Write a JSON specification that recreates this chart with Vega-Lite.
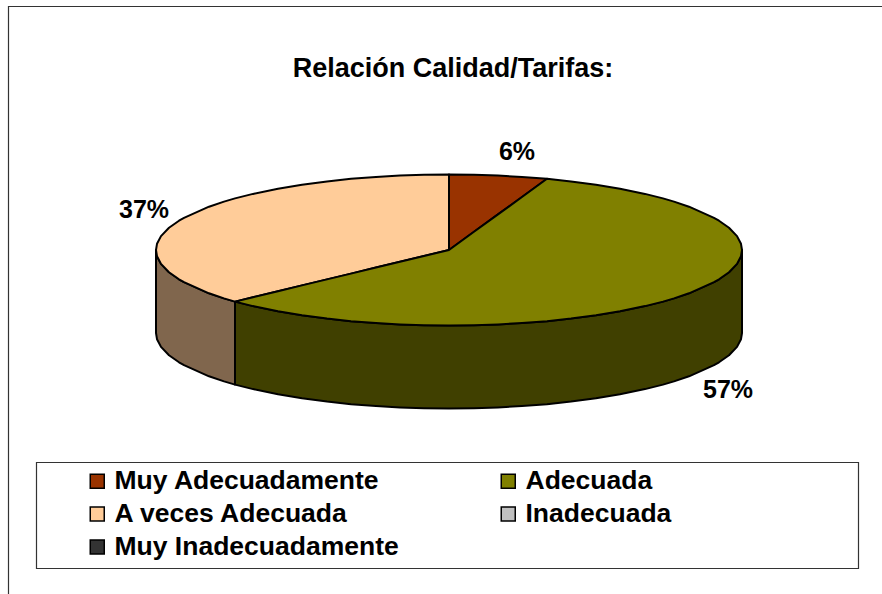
{
"$schema":"https://vega.github.io/schema/vega-lite/v6.json",
"width":882,"height":594,"padding":0,"autosize":{"type":"none"},"background":"white",
"title":{"text":"Relación Calidad/Tarifas:","font":"Liberation Sans","fontSize":27,"fontWeight":"bold","color":"#000000","anchor":"middle","dx":12,"dy":104,"offset":0,"baseline":"alphabetic"},
"config":{"view":{"stroke":null}},
"datasets":{
"boxes":[{"box":"marco","x":8.5,"x2":900,"y":6.5,"y2":620},{"box":"leyenda","x":36.5,"x2":858.5,"y":462.5,"y2":568.5}],
"labels":[{"slice":"Muy Adecuadamente","pct":"6%","x":517,"y":152},{"slice":"Adecuada","pct":"57%","x":728,"y":390},{"slice":"A veces Adecuada","pct":"37%","x":144,"y":210}],
"pie":[
{"part":"A veces lateral","x":156,"y":250,"y2":333},{"part":"A veces lateral","x":157,"y":256.2,"y2":339.2},{"part":"A veces lateral","x":161,"y":263.9,"y2":346.9},{"part":"A veces lateral","x":169,"y":272.2,"y2":355.2},{"part":"A veces lateral","x":179,"y":279.3,"y2":362.3},{"part":"A veces lateral","x":184,"y":282.2,"y2":365.2},{"part":"A veces lateral","x":209,"y":293.3,"y2":376.3},{"part":"A veces lateral","x":224,"y":298.4,"y2":381.4},{"part":"A veces lateral","x":235,"y":301.6,"y2":384.6},
{"part":"Adecuada lateral","x":235,"y":301.6,"y2":384.6},{"part":"Adecuada lateral","x":253,"y":306.1,"y2":389.1},{"part":"Adecuada lateral","x":278,"y":311.3,"y2":394.3},{"part":"Adecuada lateral","x":302,"y":315.3,"y2":398.3},{"part":"Adecuada lateral","x":327,"y":318.6,"y2":401.6},{"part":"Adecuada lateral","x":351,"y":321.2,"y2":404.2},{"part":"Adecuada lateral","x":376,"y":323.1,"y2":406.1},{"part":"Adecuada lateral","x":400,"y":324.4,"y2":407.4},{"part":"Adecuada lateral","x":424,"y":325.2,"y2":408.2},{"part":"Adecuada lateral","x":449,"y":325.5,"y2":408.5},{"part":"Adecuada lateral","x":474,"y":325.2,"y2":408.2},{"part":"Adecuada lateral","x":498,"y":324.4,"y2":407.4},{"part":"Adecuada lateral","x":522,"y":323.1,"y2":406.1},{"part":"Adecuada lateral","x":547,"y":321.2,"y2":404.2},{"part":"Adecuada lateral","x":571,"y":318.6,"y2":401.6},{"part":"Adecuada lateral","x":596,"y":315.3,"y2":398.3},{"part":"Adecuada lateral","x":620,"y":311.3,"y2":394.3},{"part":"Adecuada lateral","x":645,"y":306.1,"y2":389.1},{"part":"Adecuada lateral","x":663,"y":301.6,"y2":384.6},{"part":"Adecuada lateral","x":674,"y":298.4,"y2":381.4},{"part":"Adecuada lateral","x":689,"y":293.3,"y2":376.3},{"part":"Adecuada lateral","x":714,"y":282.2,"y2":365.2},{"part":"Adecuada lateral","x":719,"y":279.3,"y2":362.3},{"part":"Adecuada lateral","x":729,"y":272.2,"y2":355.2},{"part":"Adecuada lateral","x":737,"y":263.9,"y2":346.9},{"part":"Adecuada lateral","x":741,"y":256.2,"y2":339.2},{"part":"Adecuada lateral","x":742,"y":250,"y2":333},
{"part":"A veces Adecuada","x":156,"y":250,"y2":250},{"part":"A veces Adecuada","x":157,"y":243.8,"y2":256.2},{"part":"A veces Adecuada","x":161,"y":236.1,"y2":263.9},{"part":"A veces Adecuada","x":169,"y":227.8,"y2":272.2},{"part":"A veces Adecuada","x":179,"y":220.7,"y2":279.3},{"part":"A veces Adecuada","x":184,"y":217.8,"y2":282.2},{"part":"A veces Adecuada","x":209,"y":206.7,"y2":293.3},{"part":"A veces Adecuada","x":224,"y":201.6,"y2":298.4},{"part":"A veces Adecuada","x":235,"y":198.4,"y2":301.6},{"part":"A veces Adecuada","x":253,"y":193.9,"y2":297.3},{"part":"A veces Adecuada","x":278,"y":188.7,"y2":291.2},{"part":"A veces Adecuada","x":302,"y":184.7,"y2":285.4},{"part":"A veces Adecuada","x":327,"y":181.4,"y2":279.4},{"part":"A veces Adecuada","x":351,"y":178.8,"y2":273.6},{"part":"A veces Adecuada","x":376,"y":176.9,"y2":267.5},{"part":"A veces Adecuada","x":400,"y":175.6,"y2":261.8},{"part":"A veces Adecuada","x":424,"y":174.8,"y2":256},{"part":"A veces Adecuada","x":449,"y":174.5,"y2":250},
{"part":"Muy Adecuadamente","x":449,"y":174.5,"y2":250},{"part":"Muy Adecuadamente","x":474,"y":174.8,"y2":231.8},{"part":"Muy Adecuadamente","x":498,"y":175.6,"y2":214.4},{"part":"Muy Adecuadamente","x":522,"y":176.9,"y2":197},{"part":"Muy Adecuadamente","x":547,"y":178.8,"y2":178.8},
{"part":"Adecuada","x":235,"y":301.6,"y2":301.6},{"part":"Adecuada","x":253,"y":297.3,"y2":306.1},{"part":"Adecuada","x":278,"y":291.2,"y2":311.3},{"part":"Adecuada","x":302,"y":285.4,"y2":315.3},{"part":"Adecuada","x":327,"y":279.4,"y2":318.6},{"part":"Adecuada","x":351,"y":273.6,"y2":321.2},{"part":"Adecuada","x":376,"y":267.5,"y2":323.1},{"part":"Adecuada","x":400,"y":261.8,"y2":324.4},{"part":"Adecuada","x":424,"y":256,"y2":325.2},{"part":"Adecuada","x":449,"y":250,"y2":325.5},{"part":"Adecuada","x":474,"y":231.8,"y2":325.2},{"part":"Adecuada","x":498,"y":214.4,"y2":324.4},{"part":"Adecuada","x":522,"y":197,"y2":323.1},{"part":"Adecuada","x":547,"y":178.8,"y2":321.2},{"part":"Adecuada","x":571,"y":181.4,"y2":318.6},{"part":"Adecuada","x":596,"y":184.7,"y2":315.3},{"part":"Adecuada","x":620,"y":188.7,"y2":311.3},{"part":"Adecuada","x":645,"y":193.9,"y2":306.1},{"part":"Adecuada","x":663,"y":198.4,"y2":301.6},{"part":"Adecuada","x":674,"y":201.6,"y2":298.4},{"part":"Adecuada","x":689,"y":206.7,"y2":293.3},{"part":"Adecuada","x":714,"y":217.8,"y2":282.2},{"part":"Adecuada","x":719,"y":220.7,"y2":279.3},{"part":"Adecuada","x":729,"y":227.8,"y2":272.2},{"part":"Adecuada","x":737,"y":236.1,"y2":263.9},{"part":"Adecuada","x":741,"y":243.8,"y2":256.2},{"part":"Adecuada","x":742,"y":250,"y2":250}
]},
"layer":[
{"data":{"name":"boxes"},"mark":{"type":"rect","fill":null,"fillOpacity":0,"stroke":"#333333","strokeWidth":1.2},
"encoding":{"x":{"field":"x","type":"quantitative","scale":{"domain":[0,882],"nice":false,"zero":false},"axis":null},"x2":{"field":"x2"},"y":{"field":"y","type":"quantitative","scale":{"domain":[594,0],"nice":false,"zero":false},"axis":null},"y2":{"field":"y2"}}},
{"data":{"name":"pie"},"mark":{"type":"area","stroke":"#000000","strokeWidth":2,"strokeJoin":"round","opacity":1},
"encoding":{"x":{"field":"x","type":"quantitative","scale":{"domain":[0,882],"nice":false,"zero":false},"axis":null},"y":{"field":"y","type":"quantitative","scale":{"domain":[594,0],"nice":false,"zero":false},"axis":null},"y2":{"field":"y2"},
"fill":{"field":"part","type":"nominal","sort":null,"scale":{"domain":["Muy Adecuadamente","Adecuada","A veces Adecuada","Inadecuada","Muy Inadecuadamente","A veces lateral","Adecuada lateral"],"range":["#993300","#808000","#FFCC99","#C0C0C0","#333333","#80664D","#404000"]},
"legend":{"title":null,"values":["Muy Adecuadamente","A veces Adecuada","Muy Inadecuadamente","Adecuada","Inadecuada"],"orient":"none","legendX":84,"legendY":468,"columns":2,"columnPadding":96,"rowPadding":6,"gridAlign":"all","symbolType":"square","symbolSize":196,"symbolStrokeColor":"#000000","symbolStrokeWidth":1.5,"symbolOpacity":1,"labelFont":"Liberation Sans","labelFontSize":26.5,"labelFontWeight":"bold","labelColor":"#000000","labelLimit":400,"labelOffset":4,"clipHeight":26,"zindex":1}}}},
{"data":{"name":"labels"},"mark":{"type":"text","font":"Liberation Sans","fontSize":25,"fontWeight":"bold","color":"#000000","align":"center","baseline":"middle"},
"encoding":{"x":{"field":"x","type":"quantitative","scale":{"domain":[0,882],"nice":false,"zero":false},"axis":null},"y":{"field":"y","type":"quantitative","scale":{"domain":[594,0],"nice":false,"zero":false},"axis":null},"text":{"field":"pct","type":"nominal"}}}
]}
